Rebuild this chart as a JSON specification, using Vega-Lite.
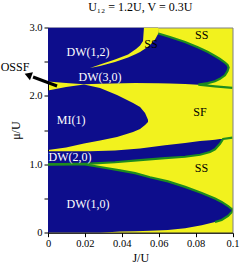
{
 "$schema": "https://vega.github.io/schema/vega-lite/v6.json",
 "width": 184.5,
 "height": 205.2,
 "autosize": {"type": "none"},
 "padding": {"left": 48, "top": 27.5, "right": 12.5, "bottom": 36.3},
 "title": {"text": "U₁₂ = 1.2U, V = 0.3U", "font": "Liberation Serif", "fontSize": 12, "fontWeight": "normal", "offset": 9, "color": "black"},
 "config": {
  "view": {"fill": "#f2f21e", "stroke": "#808080", "strokeWidth": 1}
 },
 "datasets": {
  "upper": [
   {"J": 0, "mu": 2.211, "mu2": 3.0},
   {"J": 0.0098, "mu": 2.189, "mu2": 3.0},
   {"J": 0.0195, "mu": 2.17, "mu2": 3.0},
   {"J": 0.0282, "mu": 2.177, "mu2": 3.0},
   {"J": 0.0472, "mu": 2.189, "mu2": 3.0},
   {"J": 0.0596, "mu": 2.184, "mu2": 3.0},
   {"J": 0.0598, "mu": 2.184, "mu2": 2.912},
   {"J": 0.0661, "mu": 2.181, "mu2": 2.861},
   {"J": 0.0743, "mu": 2.174, "mu2": 2.788},
   {"J": 0.0815, "mu": 2.164, "mu2": 2.708},
   {"J": 0.0867, "mu": 2.186, "mu2": 2.642},
   {"J": 0.0905, "mu": 2.213, "mu2": 2.583},
   {"J": 0.0932, "mu": 2.25, "mu2": 2.539},
   {"J": 0.0959, "mu": 2.301, "mu2": 2.488},
   {"J": 0.0973, "mu": 2.364, "mu2": 2.452},
   {"J": 0.0979, "mu": 2.405, "mu2": 2.425}
  ],
  "hole": [
   {"J": 0.0228, "mu": 2.408, "mu2": 2.408},
   {"J": 0.0282, "mu": 2.437, "mu2": 2.459},
   {"J": 0.0363, "mu": 2.496, "mu2": 2.532},
   {"J": 0.0434, "mu": 2.561, "mu2": 2.605},
   {"J": 0.0477, "mu": 2.613, "mu2": 2.686},
   {"J": 0.0499, "mu": 2.642, "mu2": 2.737},
   {"J": 0.0515, "mu": 2.671, "mu2": 2.803},
   {"J": 0.052, "mu": 2.678, "mu2": 3.0},
   {"J": 0.0553, "mu": 2.744, "mu2": 3.0},
   {"J": 0.058, "mu": 2.825, "mu2": 3.0},
   {"J": 0.0598, "mu": 2.912, "mu2": 3.0}
  ],
  "mi1": [
   {"J": 0, "mu": 1.209, "mu2": 2.079},
   {"J": 0.0098, "mu": 1.246, "mu2": 2.13},
   {"J": 0.0195, "mu": 1.304, "mu2": 2.167},
   {"J": 0.0282, "mu": 1.348, "mu2": 2.115},
   {"J": 0.0374, "mu": 1.4, "mu2": 2.013},
   {"J": 0.0461, "mu": 1.472, "mu2": 1.896},
   {"J": 0.0499, "mu": 1.516, "mu2": 1.838},
   {"J": 0.0526, "mu": 1.575, "mu2": 1.75},
   {"J": 0.0542, "mu": 1.62, "mu2": 1.65}
  ],
  "band": [
   {"J": 0, "mu": 1.0, "mu2": 1.19},
   {"J": 0.0228, "mu": 1.01, "mu2": 1.19},
   {"J": 0.0363, "mu": 1.03, "mu2": 1.2},
   {"J": 0.0499, "mu": 1.06, "mu2": 1.23},
   {"J": 0.0634, "mu": 1.09, "mu2": 1.28},
   {"J": 0.0743, "mu": 1.11, "mu2": 1.31},
   {"J": 0.0824, "mu": 1.14, "mu2": 1.34},
   {"J": 0.0878, "mu": 1.18, "mu2": 1.35},
   {"J": 0.0905, "mu": 1.22, "mu2": 1.36},
   {"J": 0.0932, "mu": 1.3, "mu2": 1.37},
   {"J": 0.0949, "mu": 1.37, "mu2": 1.37}
  ],
  "dw10": [
   {"J": 0, "mu": 0, "mu2": 1.0},
   {"J": 0.0201, "mu": 0, "mu2": 1.0},
   {"J": 0.0282, "mu": 0, "mu2": 0.96},
   {"J": 0.039, "mu": 0.018, "mu2": 0.91},
   {"J": 0.0472, "mu": 0.022, "mu2": 0.87},
   {"J": 0.0553, "mu": 0.028, "mu2": 0.81},
   {"J": 0.065, "mu": 0.04, "mu2": 0.75},
   {"J": 0.0743, "mu": 0.064, "mu2": 0.67},
   {"J": 0.0833, "mu": 0.11, "mu2": 0.58},
   {"J": 0.0905, "mu": 0.156, "mu2": 0.5},
   {"J": 0.0941, "mu": 0.186, "mu2": 0.45},
   {"J": 0.0976, "mu": 0.244, "mu2": 0.39},
   {"J": 0.0992, "mu": 0.29, "mu2": 0.354},
   {"J": 0.1, "mu": 0.31, "mu2": 0.35}
  ],
  "green": [
   {"seg": "ss_top", "i": 1, "J": 0.0598, "mu": 2.912},
   {"seg": "ss_top", "i": 2, "J": 0.0661, "mu": 2.861},
   {"seg": "ss_top", "i": 3, "J": 0.0743, "mu": 2.788},
   {"seg": "ss_top", "i": 4, "J": 0.0815, "mu": 2.708},
   {"seg": "ss_top", "i": 5, "J": 0.0867, "mu": 2.642},
   {"seg": "ss_top", "i": 6, "J": 0.0905, "mu": 2.583},
   {"seg": "ss_top", "i": 7, "J": 0.0932, "mu": 2.539},
   {"seg": "ss_top", "i": 8, "J": 0.0959, "mu": 2.488},
   {"seg": "ss_top", "i": 9, "J": 0.0973, "mu": 2.452},
   {"seg": "ss_top", "i": 10, "J": 0.0979, "mu": 2.415},
   {"seg": "ss_top", "i": 11, "J": 0.0973, "mu": 2.364},
   {"seg": "ss_top", "i": 12, "J": 0.0959, "mu": 2.301},
   {"seg": "ss_top", "i": 13, "J": 0.0932, "mu": 2.25},
   {"seg": "ss_top", "i": 14, "J": 0.0905, "mu": 2.213},
   {"seg": "ss_top", "i": 15, "J": 0.0867, "mu": 2.186},
   {"seg": "ss_top", "i": 16, "J": 0.0815, "mu": 2.164},
   {"seg": "ss_top", "i": 17, "J": 0.0905, "mu": 2.138},
   {"seg": "ss_top", "i": 18, "J": 0.1, "mu": 2.116},
   {"seg": "band", "i": 1, "J": 0, "mu": 1.0},
   {"seg": "band", "i": 2, "J": 0.0228, "mu": 1.01},
   {"seg": "band", "i": 3, "J": 0.0363, "mu": 1.03},
   {"seg": "band", "i": 4, "J": 0.0499, "mu": 1.06},
   {"seg": "band", "i": 5, "J": 0.0634, "mu": 1.09},
   {"seg": "band", "i": 6, "J": 0.0743, "mu": 1.11},
   {"seg": "band", "i": 7, "J": 0.0824, "mu": 1.14},
   {"seg": "band", "i": 8, "J": 0.0878, "mu": 1.18},
   {"seg": "band", "i": 9, "J": 0.0905, "mu": 1.22},
   {"seg": "band", "i": 10, "J": 0.0932, "mu": 1.3},
   {"seg": "band", "i": 11, "J": 0.0949, "mu": 1.37},
   {"seg": "band", "i": 12, "J": 0.1, "mu": 1.39},
   {"seg": "dw10", "i": 1, "J": 0, "mu": 1.0},
   {"seg": "dw10", "i": 2, "J": 0.0201, "mu": 1.0},
   {"seg": "dw10", "i": 3, "J": 0.0282, "mu": 0.96},
   {"seg": "dw10", "i": 4, "J": 0.039, "mu": 0.91},
   {"seg": "dw10", "i": 5, "J": 0.0472, "mu": 0.87},
   {"seg": "dw10", "i": 6, "J": 0.0553, "mu": 0.81},
   {"seg": "dw10", "i": 7, "J": 0.065, "mu": 0.75},
   {"seg": "dw10", "i": 8, "J": 0.0743, "mu": 0.67},
   {"seg": "dw10", "i": 9, "J": 0.0833, "mu": 0.58},
   {"seg": "dw10", "i": 10, "J": 0.0905, "mu": 0.5},
   {"seg": "dw10", "i": 11, "J": 0.0941, "mu": 0.45},
   {"seg": "dw10", "i": 12, "J": 0.0976, "mu": 0.39},
   {"seg": "dw10", "i": 13, "J": 0.0992, "mu": 0.354},
   {"seg": "dw10", "i": 14, "J": 0.1, "mu": 0.35},
   {"seg": "dw10", "i": 15, "J": 0.1, "mu": 0.31},
   {"seg": "dw10", "i": 16, "J": 0.0992, "mu": 0.29},
   {"seg": "dw10", "i": 17, "J": 0.0976, "mu": 0.244},
   {"seg": "dw10", "i": 18, "J": 0.0941, "mu": 0.186},
   {"seg": "dw10", "i": 19, "J": 0.0905, "mu": 0.156}
  ],
  "arrow": [
   {"J": 0.0049, "mu": 2.145, "J2": -0.0081, "mu2": 2.276}
  ],
  "arrowhead": [
   {"J": -0.0108, "mu": 2.306}
  ],
  "labels_blue": [
   {"J": 0.0217, "mu": 2.64, "text": "DW(1,2)"},
   {"J": 0.0282, "mu": 2.28, "text": "DW(3,0)"},
   {"J": 0.0125, "mu": 1.65, "text": "MI(1)"},
   {"J": 0.0119, "mu": 1.1, "text": "DW(2,0)"},
   {"J": 0.0217, "mu": 0.42, "text": "DW(1,0)"}
  ],
  "labels_yellow": [
   {"J": 0.0558, "mu": 2.76, "text": "SS"},
   {"J": 0.0833, "mu": 2.89, "text": "SS"},
   {"J": 0.0824, "mu": 1.76, "text": "SF"},
   {"J": 0.0832, "mu": 0.95, "text": "SS"},
   {"J": -0.0179, "mu": 2.42, "text": "OSSF"}
  ]
 },
 "encoding": {
  "x": {"field": "J", "type": "quantitative",
   "scale": {"domain": [0, 0.1], "nice": false, "zero": false},
   "axis": {"title": "J/U", "values": [0, 0.02, 0.04, 0.06, 0.08, 0.1],
    "labelExpr": "datum.value == 0 ? '0' : (datum.value > 0.099 ? '0.1' : format(datum.value, '.2f'))",
    "grid": false, "tickSize": 4, "labelPadding": 2, "titlePadding": 3,
    "labelFont": "Liberation Serif", "titleFont": "Liberation Serif",
    "labelFontSize": 10.5, "titleFontSize": 12, "titleFontWeight": "normal",
    "domainColor": "black", "tickColor": "black", "labelColor": "black", "titleColor": "black",
    "labelFlush": false, "labelOverlap": false}},
  "y": {"field": "mu", "type": "quantitative",
   "scale": {"domain": [0, 3], "nice": false, "zero": false},
   "axis": {"title": "μ/U", "values": [0, 0.5, 1, 1.5, 2, 2.5, 3],
    "labelExpr": "datum.value == 0 ? '0' : (datum.value % 1 == 0 ? format(datum.value, '.1f') : '')",
    "grid": false, "tickSize": 4, "labelPadding": 2, "titlePadding": 6,
    "labelFont": "Liberation Serif", "titleFont": "Liberation Serif",
    "labelFontSize": 10.5, "titleFontSize": 12, "titleFontWeight": "normal",
    "domainColor": "black", "tickColor": "black", "labelColor": "black", "titleColor": "black",
    "labelFlush": false, "labelOverlap": false}}
 },
 "layer": [
  {"data": {"name": "upper"}, "mark": {"type": "area", "color": "#0d0d8c", "clip": true}, "encoding": {"y2": {"field": "mu2"}}},
  {"data": {"name": "hole"}, "mark": {"type": "area", "color": "#f2f21e", "clip": true}, "encoding": {"y2": {"field": "mu2"}}},
  {"data": {"name": "mi1"}, "mark": {"type": "area", "color": "#0d0d8c", "clip": true}, "encoding": {"y2": {"field": "mu2"}}},
  {"data": {"name": "band"}, "mark": {"type": "area", "color": "#0d0d8c", "clip": true}, "encoding": {"y2": {"field": "mu2"}}},
  {"data": {"name": "dw10"}, "mark": {"type": "area", "color": "#0d0d8c", "clip": true}, "encoding": {"y2": {"field": "mu2"}}},
  {"data": {"name": "green"}, "mark": {"type": "line", "color": "#1e8c1e", "strokeWidth": 2.2, "clip": true},
   "encoding": {"detail": {"field": "seg"}, "order": {"field": "i", "type": "quantitative"}}},
  {"data": {"name": "arrow"}, "mark": {"type": "rule", "color": "black", "strokeWidth": 3},
   "encoding": {"x2": {"field": "J2"}, "y2": {"field": "mu2"}}},
  {"data": {"name": "arrowhead"}, "mark": {"type": "point", "shape": "triangle-up", "filled": true, "color": "black", "size": 70, "angle": 291, "opacity": 1}},
  {"data": {"name": "labels_blue"}, "mark": {"type": "text", "color": "white", "font": "Liberation Serif", "fontSize": 12},
   "encoding": {"text": {"field": "text"}}},
  {"data": {"name": "labels_yellow"}, "mark": {"type": "text", "color": "black", "font": "Liberation Serif", "fontSize": 12},
   "encoding": {"text": {"field": "text"}}}
 ]
}
